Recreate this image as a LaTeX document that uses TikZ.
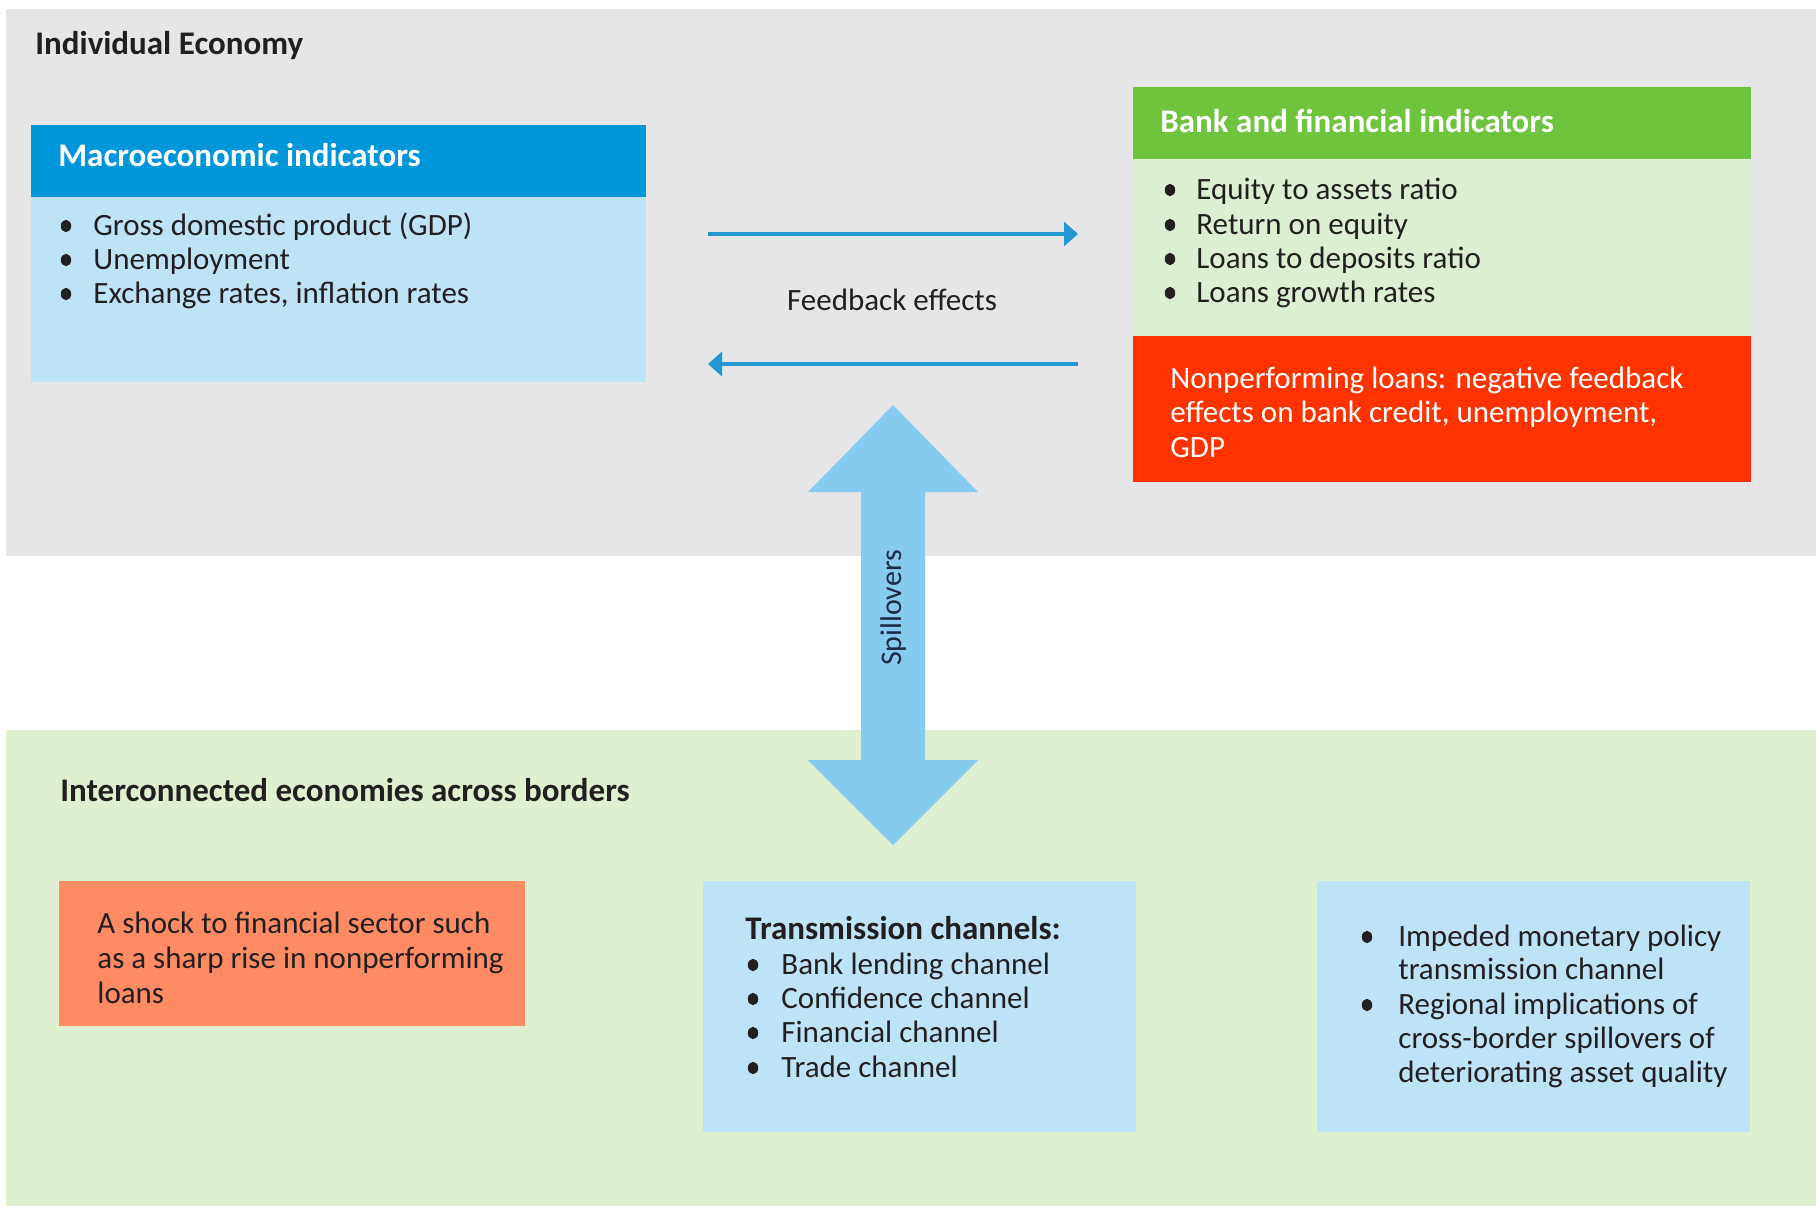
\documentclass[tikz,border=0pt]{standalone}
\usepackage{fontspec}
\setmainfont{Carlito}
\usetikzlibrary{arrows.meta,fit}
\definecolor{ink}{HTML}{231F20}
\definecolor{navy}{HTML}{1F2A44}
\definecolor{panelgray}{HTML}{E6E6E8}
\definecolor{panelgreen}{HTML}{DFF0D0}
\definecolor{macroblue}{HTML}{0096DA}
\definecolor{lightblue}{HTML}{BFE3F6}
\definecolor{bankgreen}{HTML}{6EC43C}
\definecolor{bankbody}{HTML}{DDEFD3}
\definecolor{npred}{HTML}{FF3300}
\definecolor{shockorange}{HTML}{FF8B65}
\definecolor{fbblue}{HTML}{2497D3}
\definecolor{spillblue}{HTML}{85CBF0}
\newcommand{\bitem}[5]{%
  \fill[ink] (#2,#4-9) ellipse [x radius=2.6pt, y radius=3.1pt];
  \node[txt] (#1) at (#3,#4) {#5};}
\begin{document}
\begin{tikzpicture}[x=0.5pt,y=-0.5pt,
  area/.style={inner sep=0pt, outer sep=0pt, draw=none},
  txt/.style={anchor=base west, inner sep=0pt, text=ink, font=\fontsize{15.5}{17}\selectfont},
  wtxt/.style={txt, text=white},
  hdr/.style={anchor=base west, inner sep=0pt, font=\fontsize{16.5}{18}\selectfont\bfseries},
  fbarrow/.style={draw=fbblue, line width=2.4pt, -{Triangle[length=7pt,width=12pt]}}
]
\useasboundingbox (0,0) rectangle (1816,1206);
\fill[white] (0,0) rectangle (1816,1206);

% panels
\node[area, fill=panelgray, fit={(6,9)(1816,556)}] (top) {};
\node[area, fill=panelgreen, fit={(6,730)(1816,1206)}] (bottom) {};

\node[hdr, text=ink] (indiv) at (35,54) {Individual Economy};

% macro box
\node[area, fill=macroblue, fit={(31,125)(646,197)}] (macroH) {};
\node[area, fill=lightblue, fit={(31,197)(646,382)}] (macro) {};
\node[hdr, text=white] (macroT) at (58,166) {Macroeconomic indicators};
\bitem{m1}{66}{93}{235}{Gross domestic product (GDP)}
\bitem{m2}{66}{93}{269}{Unemployment}
\bitem{m3}{66}{93}{303}{Exchange rates, inflation rates}

% bank box
\node[area, fill=bankgreen, fit={(1133,87)(1751,159)}] (bankH) {};
\node[area, fill=bankbody, fit={(1133,159)(1751,336)}] (bank) {};
\node[area, fill=npred, fit={(1133,336)(1751,482)}] (npl) {};
\node[hdr, text=white] (bankT) at (1160,132) {Bank and financial indicators};
\bitem{b1}{1170}{1196}{199}{Equity to assets ratio}
\bitem{b2}{1170}{1196}{234}{Return on equity}
\bitem{b3}{1170}{1196}{268}{Loans to deposits ratio}
\bitem{b4}{1170}{1196}{302}{Loans growth rates}
\node[wtxt] (n1) at (1170,388) {Nonperforming loans: negative feedback};
\node[wtxt] (n2) at (1170,422) {effects on bank credit, unemployment,};
\node[wtxt] (n3) at (1170,457) {GDP};

% feedback arrows
\coordinate (fR1) at (708,234);
\coordinate (fR2) at (1078,234);
\coordinate (fL1) at (1078,364);
\coordinate (fL2) at (708,364);
\draw[fbarrow] (fR1) -- (fR2);
\draw[fbarrow] (fL1) -- (fL2);
\node[txt, anchor=center] (fb) at (892,300) {Feedback effects};

% spillover double arrow
\fill[spillblue] (893,405) -- (978,492) -- (925,492) -- (925,760) -- (978,760)
  -- (893,845) -- (808,760) -- (861,760) -- (861,492) -- (808,492) -- cycle;
\node[inner sep=0pt, rotate=90, text=navy, font=\fontsize{15}{17}\selectfont] (spill) at (893,608) {Spillovers};

% bottom section
\node[hdr, text=ink] (inter) at (60,801) {Interconnected economies across borders};

\node[area, fill=shockorange, fit={(59,881)(525,1026)}] (shock) {};
\node[txt] (s1) at (97,933) {A shock to financial sector such};
\node[txt] (s2) at (97,968) {as a sharp rise in nonperforming};
\node[txt] (s3) at (97,1003) {loans};

\node[area, fill=lightblue, fit={(703,881)(1136,1132)}] (trans) {};
\node[hdr, text=ink] (transT) at (745,939) {Transmission channels:};
\bitem{t1}{753}{781}{974}{Bank lending channel}
\bitem{t2}{753}{781}{1008}{Confidence channel}
\bitem{t3}{753}{781}{1042}{Financial channel}
\bitem{t4}{753}{781}{1077}{Trade channel}

\node[area, fill=lightblue, fit={(1317,881)(1750,1132)}] (impl) {};
\bitem{i1}{1367}{1398}{946}{Impeded monetary policy}
\node[txt] (i1b) at (1398,979) {transmission channel};
\bitem{i2}{1367}{1398}{1014}{Regional implications of}
\node[txt] (i2b) at (1398,1048) {cross-border spillovers of};
\node[txt] (i2c) at (1398,1082) {deteriorating asset quality};
\end{tikzpicture}
\end{document}
